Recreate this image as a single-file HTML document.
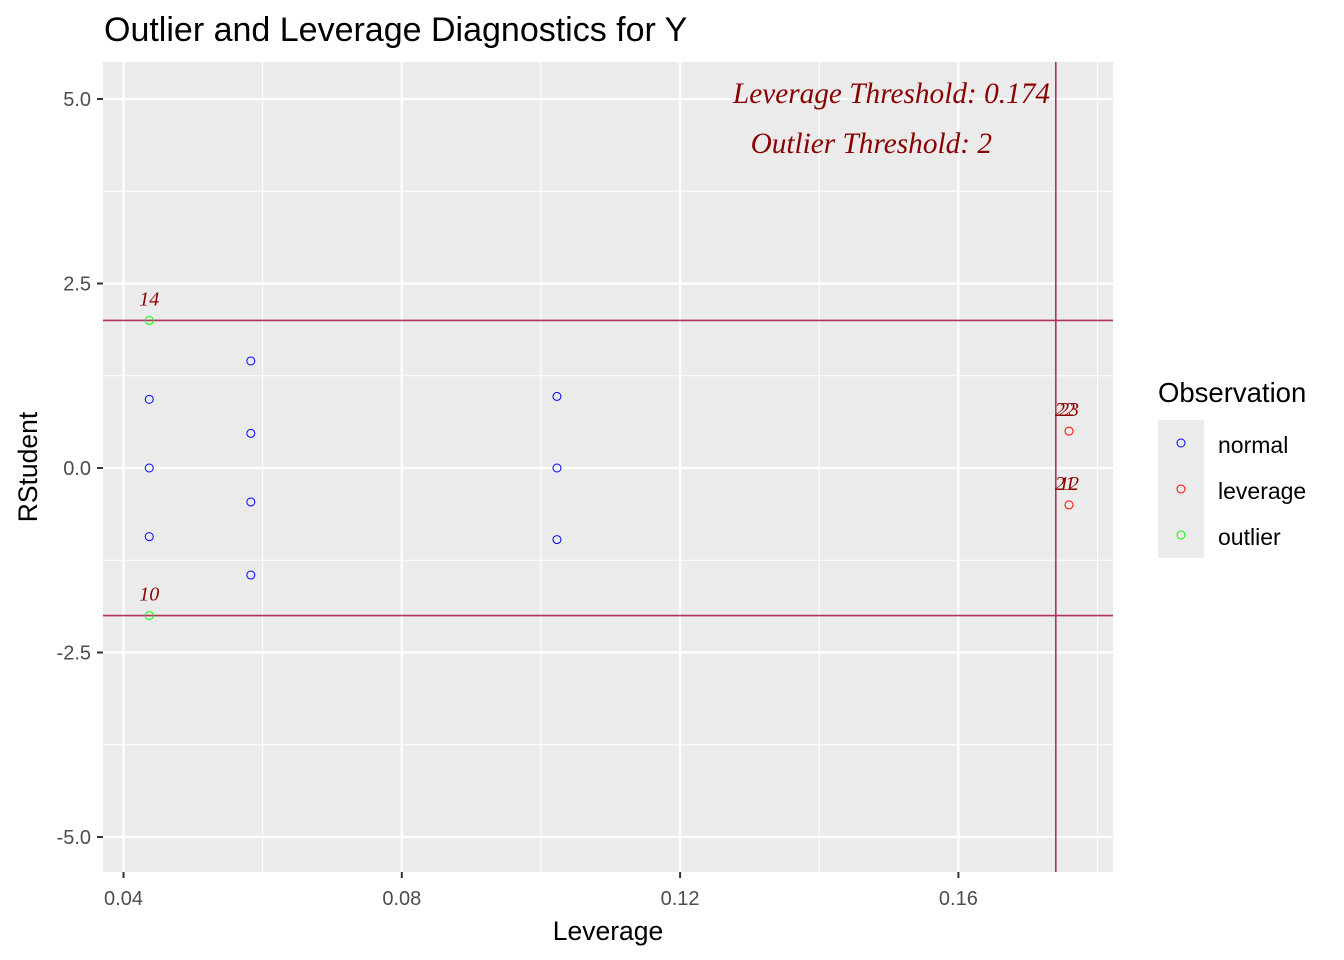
<!DOCTYPE html>
<html><head><meta charset="utf-8"><style>body{margin:0;background:#fff}svg{display:block}</style></head>
<body>
<svg id="c" width="1344" height="960" xmlns="http://www.w3.org/2000/svg" font-family="Liberation Sans, sans-serif">
<rect x="103" y="62" width="1010" height="810" fill="#ebebeb"/>
<g id="grid"></g>
<g id="marks"></g>
<text x="104" y="41" font-size="34" fill="#000">Outlier and Leverage Diagnostics for Y</text>
<text x="608" y="940" font-size="26.5" text-anchor="middle">Leverage</text>
<text transform="translate(37,467) rotate(-90)" font-size="26.5" text-anchor="middle">RStudent</text>
<text x="1050" y="103" font-size="29.3" font-style="italic" font-family="Liberation Serif, serif" fill="#8b0000" text-anchor="end">Leverage Threshold: 0.174</text>
<text x="992" y="153" font-size="29.3" font-style="italic" font-family="Liberation Serif, serif" fill="#8b0000" text-anchor="end">Outlier Threshold: 2</text>
<g>
<text x="1158" y="402" font-size="27.5">Observation</text>
<rect x="1158" y="420" width="46" height="138" fill="#ebebeb"/>
<circle cx="1181" cy="443" r="4" fill="none" stroke="#0000ff"/>
<circle cx="1181" cy="489" r="4" fill="none" stroke="#ff0000"/>
<circle cx="1181" cy="535" r="4" fill="none" stroke="#00ff00"/>
<text x="1218" y="453" font-size="23">normal</text>
<text x="1218" y="499" font-size="23">leverage</text>
<text x="1218" y="545" font-size="23">outlier</text>
</g>
</svg>
<script>
const xs=[0.0437,0.0437,0.0437,0.0437,0.0437,0.0583,0.0583,0.0583,0.0583,0.1023,0.1023,0.1023,0.1759,0.1759];
const ys=[2.0,0.93,0,-0.93,-2.0,1.45,0.47,-0.46,-1.45,0.97,0,-0.97,0.5,-0.5];
const groups=["outlier","normal","normal","normal","outlier","normal","normal","normal","normal","normal","normal","normal","leverage","leverage"];
const labels=["14","","","","10","","","","","","","","23","12"];
const xTicks=[0.04,0.08,0.12,0.16];
const xMinor=[0.06,0.10,0.14,0.18];
const yTicks=[-5,-2.5,0,2.5,5];
const yMinor=[-3.75,-1.25,1.25,3.75];
const levThr=0.174, outThr=2;
const X=v=>123.5+(v-0.04)*278.3/0.04;
const Y=v=>468-v*73.8;
const NS="http://www.w3.org/2000/svg";
const col={normal:"#0000ff",leverage:"#ff0000",outlier:"#00ff00"};
function mk(p,t,a){const e=document.createElementNS(NS,t);for(const k in a)e.setAttribute(k,a[k]);p.appendChild(e);return e;}
const g=document.getElementById('grid'),m=document.getElementById('marks'),s=document.getElementById('c');
xMinor.forEach(v=>{const e=mk(g,'line',{x1:X(v),x2:X(v),y1:62,y2:872,stroke:'#fff','stroke-width':1.1});

});
yMinor.forEach(v=>{const e=mk(g,'line',{x1:103,x2:1113,y1:Y(v),y2:Y(v),stroke:'#fff','stroke-width':1.1});

});
xTicks.forEach(v=>{const e=mk(g,'line',{x1:X(v),x2:X(v),y1:62,y2:872,stroke:'#fff','stroke-width':2.2});


const t=mk(s,'line',{x1:X(v),x2:X(v),y1:872,y2:878,stroke:'#333','stroke-width':2});


const l=mk(s,'text',{x:X(v),y:905,'font-size':20,fill:'#4d4d4d','text-anchor':'middle'});l.textContent=v.toFixed(2);

});
yTicks.forEach(v=>{const e=mk(g,'line',{x1:103,x2:1113,y1:Y(v),y2:Y(v),stroke:'#fff','stroke-width':2.2});


const t=mk(s,'line',{x1:97,x2:103,y1:Y(v),y2:Y(v),stroke:'#333','stroke-width':2});


const l=mk(s,'text',{x:91,y:Y(v)+7,'font-size':20,fill:'#4d4d4d','text-anchor':'end'});l.textContent=v.toFixed(1);

});
[outThr,-outThr].forEach(v=>{const e=mk(m,'line',{x1:103,x2:1113,y1:Y(v),y2:Y(v),stroke:'#b03060','stroke-width':1.6});

});
const vl=mk(m,'line',{x1:X(levThr),x2:X(levThr),y1:62,y2:872,stroke:'#b03060','stroke-width':1.6});


xs.forEach((v,i)=>{const c=mk(m,'circle',{cx:X(v),cy:Y(ys[i]),r:4,fill:'none',stroke:col[groups[i]],'stroke-width':1});


if(labels[i]){const t=mk(m,'text',{x:X(v),y:Y(ys[i])-15,'font-size':20,'font-style':'italic','font-family':'Liberation Serif, serif',fill:'#8b0000','text-anchor':'middle'});t.textContent=labels[i];


if(groups[i]==='leverage'){const t2=mk(m,'text',{x:X(v)-4,y:Y(ys[i])-15,'font-size':20,'font-style':'italic','font-family':'Liberation Serif, serif',fill:'#8b0000','text-anchor':'middle'});t2.textContent='2'+(i===12?'2':'1');

}}});
</script>
</body></html>
